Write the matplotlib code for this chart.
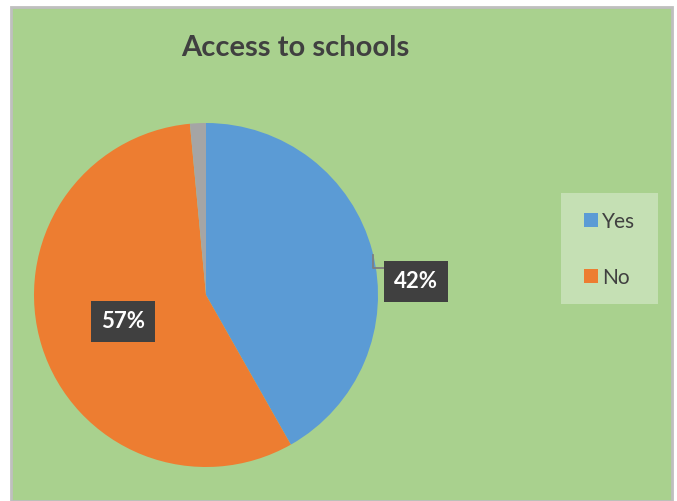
import matplotlib.pyplot as plt
from matplotlib.patches import Rectangle

# Datos
categorias = ['Yes', 'No', '']
valores = [42, 57, 1.5]
colores = ['#5B9BD5', '#ED7D31', '#A5A5A5']
etiquetas = ['42%', '57%', None]

W, H = 677, 502
fig = plt.figure(figsize=(W / 100, H / 100), dpi=100, facecolor='white')

# Fondo verde con borde gris
fig.patches.append(Rectangle((11 / W, 0), (672 - 11) / W, (H - 8) / H,
                             transform=fig.transFigure, facecolor='#A9D18E',
                             edgecolor='#BFBFBF', linewidth=2, zorder=-2))

# Eje del pastel: centro (206, 296), radio 172 px
cx, cy, r = 206, 296, 172
ax = fig.add_axes([(cx - r) / W, (H - cy - r) / H, 2 * r / W, 2 * r / H])
ax.set_zorder(1)

wedges, _ = ax.pie(valores, colors=colores, startangle=90, counterclock=False,
                   radius=1, center=(0, 0), frame=True)
ax.set_xlim(-1, 1)
ax.set_ylim(-1, 1)
ax.axis('off')

# Etiquetas de datos
caja = dict(boxstyle='square,pad=0.45', facecolor='#404040', edgecolor='none')
fs = 16
ax.text((416 - cx) / r, (cy - 282) / r, etiquetas[0], color='white',
        fontsize=fs, fontweight='bold', family='Lato', ha='center', va='center', bbox=caja)
ax.text((123 - cx) / r, (cy - 322) / r, etiquetas[1], color='white',
        fontsize=fs, fontweight='bold', family='Lato', ha='center', va='center', bbox=caja)
# Línea guía
ax.plot([(373 - cx) / r, (373 - cx) / r, (386 - cx) / r],
        [(cy - 256) / r, (cy - 269) / r, (cy - 269) / r],
        color='#7F7F7F', linewidth=1.3, clip_on=False)

# Título
fig.text(295 / W, 1 - 48 / H, 'Access to schools', ha='center', va='center',
         fontsize=21, fontweight='bold', color='#404040', family='Lato')

# Leyenda
fig.patches.append(Rectangle((561 / W, 1 - 305 / H), 97 / W, 111 / H,
                             transform=fig.transFigure, facecolor='#C5E0B4',
                             edgecolor='none', zorder=-1))
for i, yy in zip(range(2), [221, 277]):
    fig.patches.append(Rectangle((584 / W, 1 - (yy + 7) / H), 14 / W, 14 / H,
                                 transform=fig.transFigure, facecolor=colores[i],
                                 edgecolor='none', zorder=2))
    fig.text(602 / W, 1 - (yy + 1) / H, categorias[i], ha='left', va='center',
             fontsize=15, color='#404040', family='Lato', zorder=3)

fig.savefig('out.png', dpi=100, facecolor=fig.get_facecolor())
